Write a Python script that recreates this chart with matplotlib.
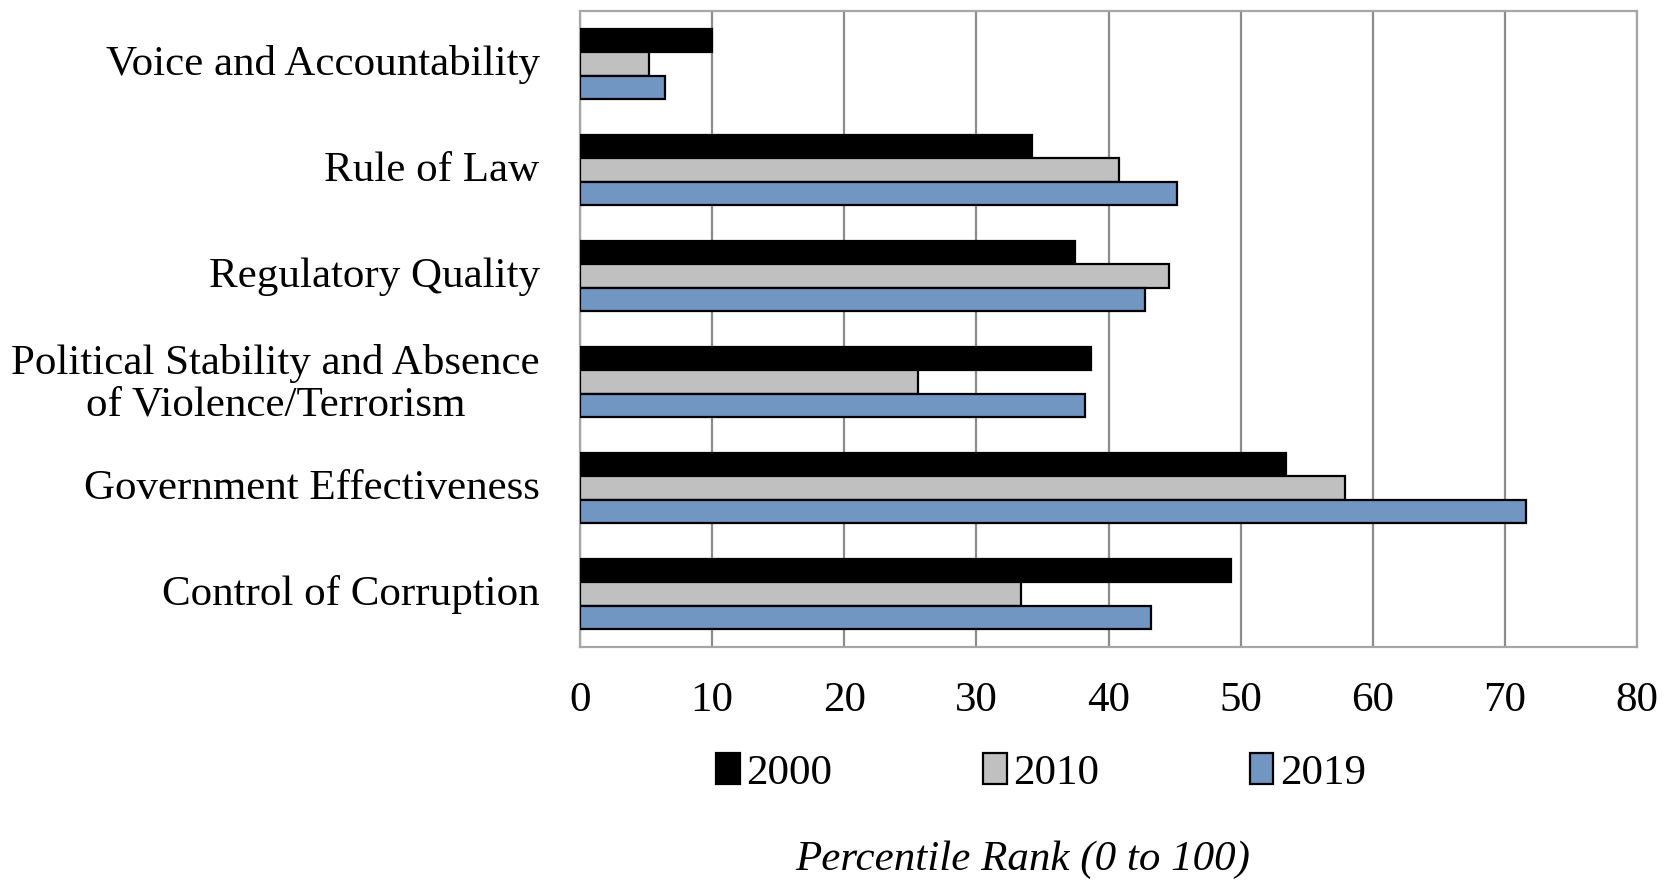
import matplotlib
matplotlib.use("Agg")
import matplotlib.pyplot as plt
import matplotlib.transforms as mtransforms
import numpy as np

categories = [
    "Voice and Accountability",
    "Rule of Law",
    "Regulatory Quality",
    "Political Stability and Absence\nof Violence/Terrorism",
    "Government Effectiveness",
    "Control of Corruption",
]
years = ["2000", "2010", "2019"]
values_2000 = [10.0, 34.2, 37.5, 38.7, 53.4, 49.3]
values_2010 = [5.2, 40.8, 44.6, 25.6, 57.9, 33.4]
values_2019 = [6.4, 45.2, 42.8, 38.2, 71.6, 43.2]
x_ticks = [0, 10, 20, 30, 40, 50, 60, 70, 80]

colors = ["#000000", "#C0C0C0", "#7096C1"]
series = [values_2000, values_2010, values_2019]

plt.rcParams["font.family"] = ["Liberation Serif", "DejaVu Serif"]

fig = plt.figure(figsize=(16.75, 8.8), dpi=100)
ax = fig.add_axes([580 / 1675, 1 - 647 / 880, (1637 - 580) / 1675, (647 - 11) / 880])

n = len(categories)
pos = np.arange(n)[::-1].astype(float)
h = 0.223
offsets = [-h, 0.0, h]
for vals, col, yr, off in zip(series, colors, years, offsets):
    ax.barh(pos - off, vals, height=h, color=col, edgecolor="black",
            linewidth=1.6, label=yr, zorder=3)

ax.set_xlim(0, 80)
ax.set_ylim(-0.5, n - 0.5)
ax.set_xticks(x_ticks)
ax.set_xticklabels([str(t) for t in x_ticks], fontsize=31)
ax.set_yticks(pos)
ax.set_yticklabels(categories, fontsize=31, multialignment="center",
                   linespacing=1.1)
ax.tick_params(axis="both", length=0)
ax.tick_params(axis="y", pad=29)
ax.tick_params(axis="x", pad=25)

# nudge category labels up slightly so they sit on the bar-group centres
lift = mtransforms.ScaledTranslation(0, 4 / 100, fig.dpi_scale_trans)
for lbl in ax.get_yticklabels():
    lbl.set_transform(lbl.get_transform() + lift)

ax.grid(axis="x", color="#8C8C8C", linewidth=1.6, zorder=0)
for s in ax.spines.values():
    s.set_color("#A6A6A6")
    s.set_linewidth(1.6)

handles, labels = ax.get_legend_handles_labels()
fig.legend(handles, labels, loc="center", bbox_to_anchor=(1041 / 1675, 1 - 773 / 880),
           ncol=3, frameon=False, fontsize=31, handlelength=0.55, handleheight=0.7,
           handletextpad=0.15, columnspacing=3.5)

fig.text(1023 / 1675, 1 - 860 / 880, "Percentile Rank (0 to 100)", fontsize=31,
         style="italic", ha="center", va="center")

fig.savefig("out.png", dpi=100)
